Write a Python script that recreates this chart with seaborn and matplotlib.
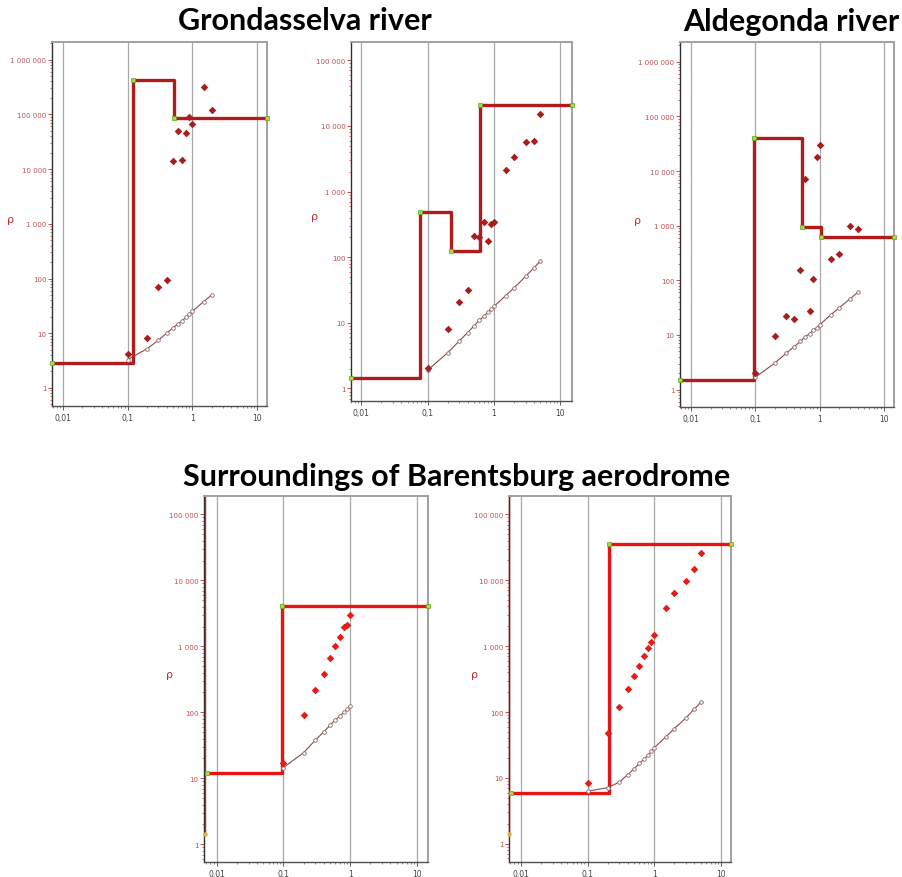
import numpy as np
import pandas as pd
import matplotlib
matplotlib.use("Agg")
import matplotlib.pyplot as plt
from matplotlib.ticker import LogLocator, FixedLocator, NullFormatter, FuncFormatter
import seaborn as sns

sns.set_theme(style="white")
plt.rcParams["font.family"] = ["DejaVu Sans"]

# ==========================================================
# DATA
# ==========================================================
# Grondasselva river, sounding 1
ab_grond1 = [0.1, 0.2, 0.3, 0.4, 0.5, 0.6, 0.7, 0.8, 0.9, 1.0, 1.5, 2.0]
rho_obs_grond1 = [4.2, 8.2, 71, 93, 14300, 49000, 14900, 46000, 88000, 68000, 310000, 122000]
rho_calc_grond1 = [3.3, 5.2, 7.5, 10, 12.5, 14.8, 17, 19.5, 22, 25, 38, 50]
model_depth_grond1 = [0.0068, 0.119, 0.514, 14.3]
model_rho_grond1 = [2.9, 427000, 86000, 86000]

# Grondasselva river, sounding 2
ab_grond2 = [0.1, 0.2, 0.3, 0.4, 0.5, 0.6, 0.7, 0.8, 0.9, 1.0, 1.5, 2.0, 3.0, 4.0, 5.0]
rho_obs_grond2 = [2.07, 8.2, 20.7, 32, 210, 205, 347, 178, 324, 347, 2100, 3360, 5620, 5890, 15400]
rho_calc_grond2 = [1.9, 3.5, 5.3, 7.1, 9.0, 10.9, 12.5, 14.4, 16.0, 17.8, 26, 34, 51, 69, 87]
model_depth_grond2 = [0.0070, 0.078, 0.228, 0.61, 15.0]
model_rho_grond2 = [1.46, 482, 124, 20600, 20600]

# Aldegonda river
ab_alde = [0.1, 0.2, 0.3, 0.4, 0.5, 0.6, 0.7, 0.8, 0.9, 1.0, 1.5, 2.0, 3.0, 4.0]
rho_obs_alde = [2.0, 9.4, 22.4, 19.5, 156, 7270, 27, 107, 18100, 29700, 249, 303, 990, 880]
rho_calc_alde = [1.69, 3.05, 4.6, 6.1, 7.6, 9.3, 10.6, 12.3, 13.5, 15.3, 23.4, 31, 46, 61]
model_depth_alde = [0.0067, 0.096, 0.526, 1.055, 14.5]
model_rho_alde = [1.47, 40400, 960, 621, 621]

# Surroundings of Barentsburg aerodrome, sounding 1
ab_aero1 = [0.1, 0.2, 0.3, 0.4, 0.5, 0.6, 0.7, 0.8, 0.9, 1.0]
rho_obs_aero1 = [17.3, 92, 219, 387, 678, 1020, 1410, 2000, 2100, 2970]
rho_calc_aero1 = [14.6, 24.5, 38, 50.6, 64, 77, 88, 100, 111, 124]
model_depth_aero1 = [0.0071, 0.094, 14.6]
model_rho_aero1 = [11.9, 4120, 4120]
edge_rho_aero1 = [1.42, 190000]

# Surroundings of Barentsburg aerodrome, sounding 2
ab_aero2 = [0.1, 0.2, 0.3, 0.4, 0.5, 0.6, 0.7, 0.8, 0.9, 1.0, 1.5, 2.0, 3.0, 4.0, 5.0]
rho_obs_aero2 = [8.4, 48.6, 121, 224, 357, 507, 703, 942, 1175, 1466, 3860, 6310, 9700, 14600, 25800]
rho_calc_aero2 = [6.3, 7.1, 8.65, 11.2, 13.8, 16.6, 19.1, 22, 25.2, 28.8, 42.3, 56, 82, 112, 141]
model_depth_aero2 = [0.0071, 0.21, 14.1]
model_rho_aero2 = [5.96, 35400, 35400]
edge_rho_aero2 = [1.42, 190000]

x_ticks = [0.01, 0.1, 1, 10]
x_tick_labels = ["0,01", "0,1", "1", "10"]

# ==========================================================
# LAYOUT (pixels of a 903x878 figure)
# ==========================================================
W, H = 903, 878
PANELS = [
    dict(box=(52, 43, 267, 407), xlim=(0.00676, 14.3), ylim=(0.468, 2.1e6), ymax=6, dark=True,
         ab=ab_grond1, obs=rho_obs_grond1, calc=rho_calc_grond1,
         mx=model_depth_grond1, mr=model_rho_grond1, edge=None, lab_dx=42),
    dict(box=(351, 43, 572, 402), xlim=(0.0070, 15.0), ylim=(0.645, 1.9e5), ymax=5, dark=True,
         ab=ab_grond2, obs=rho_obs_grond2, calc=rho_calc_grond2,
         mx=model_depth_grond2, mr=model_rho_grond2, edge=None, lab_dx=36),
    dict(box=(680, 43, 894, 408), xlim=(0.00666, 14.5), ylim=(0.48, 2.3e6), ymax=6, dark=True,
         ab=ab_alde, obs=rho_obs_alde, calc=rho_calc_alde,
         mx=model_depth_alde, mr=model_rho_alde, edge=None, lab_dx=42),
    dict(box=(204, 497, 428, 863), xlim=(0.00645, 14.6), ylim=(0.54, 1.9e5), ymax=5, dark=False,
         ab=ab_aero1, obs=rho_obs_aero1, calc=rho_calc_aero1,
         mx=model_depth_aero1, mr=model_rho_aero1, edge=edge_rho_aero1, lab_dx=34),
    dict(box=(509, 497, 731, 863), xlim=(0.00667, 14.1), ylim=(0.53, 1.9e5), ymax=5, dark=False,
         ab=ab_aero2, obs=rho_obs_aero2, calc=rho_calc_aero2,
         mx=model_depth_aero2, mr=model_rho_aero2, edge=edge_rho_aero2, lab_dx=34),
]

TITLES = [
    ("Grondasselva river", 305, 21),
    ("Aldegonda river", 791, 22),
    ("Surroundings of Barentsburg aerodrome", 457, 477),
]

X_LABELS = dict(zip(x_ticks, x_tick_labels))


def fmt_rho(v):
    return f"{int(round(v)):,}".replace(",", " ")


def fmt_x(v, pos=None):
    for k, lab in X_LABELS.items():
        if abs(np.log10(v) - np.log10(k)) < 1e-6:
            return lab
    return ""


fig = plt.figure(figsize=(W / 100, H / 100), dpi=100)
fig.patch.set_facecolor("white")

for p in PANELS:
    l, t, r, b = p["box"]
    ax = fig.add_axes([l / W, 1 - b / H, (r - l) / W, (b - t) / H])
    ax.set_xscale("log")
    ax.set_yscale("log")

    step_col = "#b01c1c" if p["dark"] else "#e81414"
    pt_col = "#a81e1e" if p["dark"] else "#e41c1c"

    # vertical decade grid
    for xt in x_ticks:
        ax.axvline(xt, color="#a8a8a8", lw=0.9, zorder=0)

    if p["edge"] is not None:
        ax.plot([p["mx"][0] * 0.93] * 2, p["edge"], color="#e02020", lw=1.0,
                zorder=1, clip_on=False)
        ax.plot([p["mx"][0] * 0.93], [p["edge"][0]], "o", ms=2.2,
                color="#e8b030", zorder=5, clip_on=False)

    # calculated curve
    calc = pd.DataFrame({"ab": p["ab"], "rho": p["calc"]})
    sns.lineplot(data=calc, x="ab", y="rho", ax=ax, color="#8a4a4a", lw=0.8,
                 marker="o", markersize=2.6, markerfacecolor="white",
                 markeredgecolor="#906868", markeredgewidth=0.6, zorder=3)

    # observed apparent resistivity
    obs = pd.DataFrame({"ab": p["ab"], "rho": p["obs"]})
    sns.scatterplot(data=obs, x="ab", y="rho", ax=ax, color=pt_col, marker="D",
                    s=15, linewidth=0, zorder=4)

    # layered model
    model = pd.DataFrame({"h": p["mx"], "rho": p["mr"]})
    sns.lineplot(data=model, x="h", y="rho", ax=ax, color=step_col, lw=2.4,
                 drawstyle="steps-post", sort=False, estimator=None, zorder=2)
    ax.plot(p["mx"], p["mr"], "s", ms=3.0, markerfacecolor="#9ee040",
            markeredgecolor="#6aa020", markeredgewidth=0.5, zorder=6, clip_on=False)

    ax.set_xlim(*p["xlim"])
    ax.set_ylim(*p["ylim"])

    yt = [10.0 ** k for k in range(0, p["ymax"] + 1)]
    ax.yaxis.set_major_locator(FixedLocator(yt))
    ax.yaxis.set_major_formatter(FuncFormatter(lambda v, pos: fmt_rho(v)))
    ax.yaxis.set_minor_locator(LogLocator(base=10, subs=np.arange(2, 10), numticks=20))
    ax.yaxis.set_minor_formatter(NullFormatter())
    ax.xaxis.set_major_locator(FixedLocator(x_ticks))
    ax.xaxis.set_major_formatter(FuncFormatter(fmt_x))
    ax.xaxis.set_minor_locator(LogLocator(base=10, subs=np.arange(2, 10), numticks=20))
    ax.xaxis.set_minor_formatter(NullFormatter())

    ax.tick_params(axis="y", which="major", length=3, width=0.6, color="#c03030",
                   labelsize=5, labelcolor="#b85050", pad=1, left=True)
    ax.tick_params(axis="y", which="minor", length=1.6, width=0.5, color="#c03030", left=True)
    ax.tick_params(axis="x", which="major", length=3, width=0.6, color="#404040",
                   labelsize=5.5, labelcolor="#404040", pad=2, bottom=True)
    ax.tick_params(axis="x", which="minor", length=1.5, width=0.5, color="#606060", bottom=True)

    for side in ["top", "right"]:
        ax.spines[side].set_color("#a0a0a0")
        ax.spines[side].set_linewidth(1.4)
    ax.spines["left"].set_color("#303030")
    ax.spines["left"].set_linewidth(1.0)
    ax.spines["bottom"].set_color("#505050")
    ax.spines["bottom"].set_linewidth(1.0)

    ax.set_xlabel("")
    ax.set_ylabel("ρ", rotation=0, color="#c03030", fontsize=8)
    ax.yaxis.set_label_coords(-p["lab_dx"] / (r - l), 0.5)
    legend = ax.get_legend()
    if legend is not None:
        legend.remove()

for text, x, y in TITLES:
    fig.text(x / W, 1 - y / H, text, ha="center", va="center", fontsize=22,
             fontweight="bold", family=["Lato", "DejaVu Sans"], color="black")

fig.savefig("out.png", dpi=100)
